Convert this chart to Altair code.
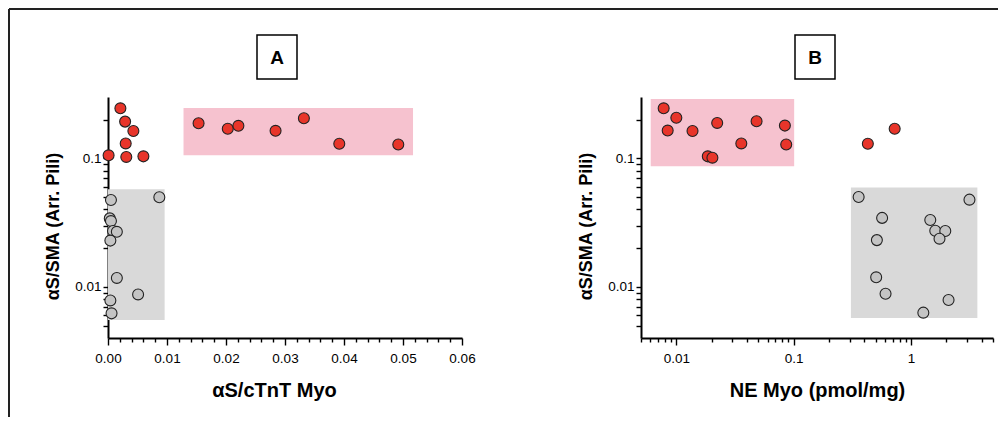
import altair as alt
import pandas as pd

# ---------------- data ----------------
# Panel A : x = aS/cTnT Myo (linear), y = aS/SMA (log)
a_red_x = [0.0021, 0.0029, 0.0043, 0.0030, 0.0001, 0.0031, 0.0060,
           0.01535, 0.0203, 0.0221, 0.0284, 0.0332, 0.0392, 0.0492]
a_red_y = [0.245, 0.193, 0.163, 0.1306, 0.1055, 0.1025, 0.1036,
           0.1875, 0.170, 0.179, 0.1636, 0.205, 0.1298, 0.128]
a_grey_x = [0.0005, 0.0087, 0.0003, 0.0005, 0.00085, 0.0015, 0.0004,
            0.0015, 0.0051, 0.0004, 0.0006]
a_grey_y = [0.0474, 0.0498, 0.0341, 0.0325, 0.0272, 0.0268, 0.0229,
            0.01173, 0.00873, 0.00784, 0.00622]

# Panel B : x = NE Myo (log), y = aS/SMA (log)
b_red_x = [0.0078, 0.00844, 0.0100, 0.01374, 0.0223, 0.01854, 0.0203,
           0.0358, 0.0483, 0.0842, 0.0864, 0.4288, 0.726]
b_red_y = [0.245, 0.1644, 0.207, 0.163, 0.1886, 0.1036, 0.1012,
           0.1306, 0.1944, 0.1797, 0.128, 0.1298, 0.170]
b_grey_x = [0.358, 3.15, 0.5675, 1.46, 0.512, 1.61, 1.96, 1.75,
            0.505, 0.607, 2.09, 1.274]
b_grey_y = [0.050, 0.0477, 0.0344, 0.0331, 0.0231, 0.0273, 0.0272, 0.0237,
            0.01186, 0.00883, 0.0079, 0.0063]

# shaded regions [x0, x1, y0, y1]
a_pink_box = [0.0128, 0.0517, 0.1055, 0.246]
a_grey_box = [0.0, 0.0096, 0.00553, 0.0574]
b_pink_box = [0.00605, 0.101, 0.0868, 0.289]
b_grey_box = [0.3077, 3.68, 0.00573, 0.0594]

# axes
y_ticks = [0.005, 0.006, 0.007, 0.008, 0.009, 0.01,
           0.02, 0.03, 0.04, 0.05, 0.06, 0.07, 0.08, 0.09, 0.1, 0.2]
a_x_ticks = [0.0, 0.002, 0.004, 0.006, 0.008, 0.01, 0.012, 0.014, 0.016,
             0.018, 0.02, 0.022, 0.024, 0.026, 0.028, 0.03, 0.032, 0.034,
             0.036, 0.038, 0.04, 0.042, 0.044, 0.046, 0.048, 0.05, 0.052,
             0.054, 0.056, 0.058, 0.06]
b_x_ticks = [0.005, 0.006, 0.007, 0.008, 0.009, 0.01,
             0.02, 0.03, 0.04, 0.05, 0.06, 0.07, 0.08, 0.09, 0.1,
             0.2, 0.3, 0.4, 0.5, 0.6, 0.7, 0.8, 0.9, 1, 2, 3, 4, 5]

y_title = "αS/SMA (Arr. Pili)"
a_x_title = "αS/cTnT Myo"
b_x_title = "NE Myo (pmol/mg)"

RED = "#e8352a"
GREY = "#c4c4c4"
PINK = "#f6c2cf"
SHADE = "#d9d9d9"
FONT = "Liberation Sans"

W_A, W_B, H = 354, 352, 241


def pts_df(xr, yr, xg, yg):
    return pd.DataFrame({
        "x": xr + xg,
        "y": yr + yg,
        "grp": ["r"] * len(xr) + ["g"] * len(xg),
    })


def box_df(pink, grey):
    return pd.DataFrame({
        "x0": [pink[0], grey[0]], "x1": [pink[1], grey[1]],
        "y0": [pink[2], grey[2]], "y1": [pink[3], grey[3]],
        "c": ["p", "g"],
    })


y_scale = alt.Scale(type="log", domain=[0.004, 0.3], nice=False)
y_axis = alt.Axis(
    title=y_title, values=y_ticks, format="~g",
    labelExpr="datum.value == 0.1 || datum.value == 0.01 ? datum.label : ''",
    labelOverlap=False, labelFlush=False, tickSize=5, labelPadding=2,
    titleX=-46, titleY=129, titleAngle=270, titleBaseline="bottom", titleFontSize=18,
)

a_x_scale = alt.Scale(domain=[0, 0.06], nice=False, zero=False)
a_x_axis = alt.Axis(
    title=a_x_title, values=a_x_ticks, format=".2f",
    labelExpr="abs(datum.value*100 - round(datum.value*100)) < 1e-6 ? datum.label : ''",
    tickSize={"condition": {"test": "abs(datum.value*100 - round(datum.value*100)) < 1e-6", "value": 7}, "value": 4},
    labelOverlap=False, labelFlush=False, labelPadding=6,
    titleX=166, titleY=42, titleBaseline="top", titleFontSize=20,
)

b_x_scale = alt.Scale(type="log", domain=[0.005, 5], nice=False)
b_x_axis = alt.Axis(
    title=b_x_title, values=b_x_ticks, format="~g",
    labelExpr="datum.value == 0.01 || datum.value == 0.1 || datum.value == 1 ? datum.label : ''",
    tickSize={"condition": {"test": "datum.value == 0.01 || datum.value == 0.1 || datum.value == 1", "value": 7}, "value": 4},
    labelOverlap=False, labelFlush=False, labelPadding=6,
    titleX=176, titleY=42, titleBaseline="top", titleFontSize=20,
)


def panel(pts, boxes, xs, xa, w, letter, box_x, extra=None):
    shade = alt.Chart(boxes).mark_rect(opacity=1).encode(
        x=alt.X("x0:Q", scale=xs, axis=xa),
        x2="x1:Q",
        y=alt.Y("y0:Q", scale=y_scale, axis=y_axis),
        y2="y1:Q",
        color=alt.Color("c:N", scale=alt.Scale(domain=["p", "g"], range=[PINK, SHADE]), legend=None),
    )
    dots = alt.Chart(pts).mark_circle(size=120, opacity=1, stroke="#222222", strokeWidth=1.1).encode(
        x=alt.X("x:Q", scale=xs, axis=xa),
        y=alt.Y("y:Q", scale=y_scale, axis=y_axis),
        fill=alt.Fill("grp:N", scale=alt.Scale(domain=["r", "g"], range=[RED, GREY]), legend=None),
    )
    one = pd.DataFrame({"k": [letter]})
    lbox = alt.Chart(one).mark_rect(fill="white", stroke="black", strokeWidth=1.5).encode(
        x=alt.value(box_x), x2=alt.value(box_x + 40),
        y=alt.value(-62), y2=alt.value(-18),
    )
    ltxt = alt.Chart(one).mark_text(font=FONT, fontSize=19, fontWeight="bold",
                                    align="center", baseline="middle", color="black").encode(
        x=alt.value(box_x + 20), y=alt.value(-39), text="k:N",
    )
    layers = [shade, dots, lbox, ltxt]
    if extra:
        layers += extra
    return alt.layer(*layers).resolve_scale(color="independent", fill="independent").properties(width=w, height=H)


frame_df = pd.DataFrame({"k": [0]})
frame_top = alt.Chart(frame_df).mark_rule(color="#222222", strokeWidth=2).encode(
    x=alt.value(-99), x2=alt.value(890), y=alt.value(-88),
)
frame_left = alt.Chart(frame_df).mark_rule(color="#222222", strokeWidth=2).encode(
    x=alt.value(-99), y=alt.value(-88), y2=alt.value(320),
)

panel_a = panel(pts_df(a_red_x, a_red_y, a_grey_x, a_grey_y), box_df(a_pink_box, a_grey_box),
                a_x_scale, a_x_axis, W_A, "A", 149, [frame_top, frame_left])
panel_b = panel(pts_df(b_red_x, b_red_y, b_grey_x, b_grey_y), box_df(b_pink_box, b_grey_box),
                b_x_scale, b_x_axis, W_B, "B", 154)

chart = alt.hconcat(panel_a, panel_b, spacing=179, bounds="flush").properties(
    padding=0, background="white",
).configure_view(stroke=None).configure_axis(
    grid=False, domainColor="black", domainWidth=2, tickColor="black", tickWidth=1.4,
    labelFont=FONT, labelFontSize=13.5, labelColor="black",
    titleFont=FONT, titleFontSize=18, titleFontWeight="bold", titleColor="black",
)

chart.save("out.html", embed_options={"renderer": "svg", "actions": False})
